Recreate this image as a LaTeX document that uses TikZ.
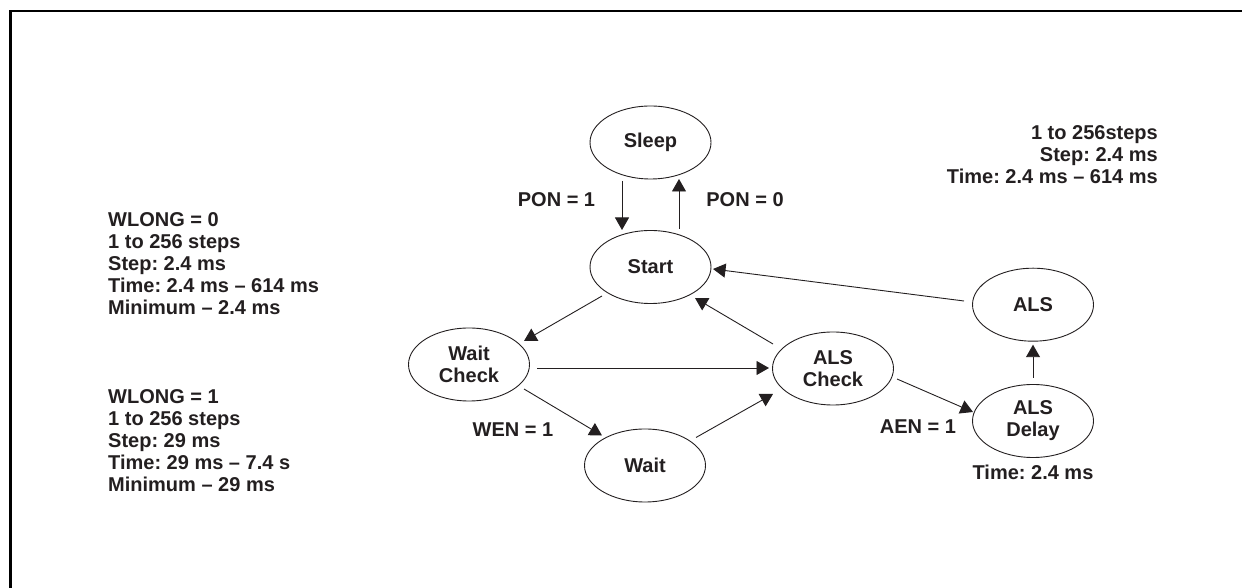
\documentclass[tikz,border=0pt]{standalone}
\usepackage{fontspec}
\setmainfont{Liberation Sans}
\usetikzlibrary{arrows.meta,shapes.geometric,calc}
\definecolor{ink}{RGB}{35,31,32}
\frenchspacing
\newcommand\mylabfont{\fontsize{20}{22}\selectfont\bfseries}
\newcommand\mylines[2][l]{\begin{tabular}[t]{@{}#1@{}}#2\end{tabular}}
\begin{document}
\begin{tikzpicture}[x=1pt,y=1pt,
  state/.style={ellipse,draw=ink,line width=0.9pt,minimum width=121pt,minimum height=73pt,inner sep=0pt,align=center,text=ink,font=\mylabfont},
  arr/.style={draw=ink,line width=0.9pt,-{Triangle[width=14pt,length=12.5pt]}},
  lbl/.style={inner sep=0pt,text=ink,font=\mylabfont}
]
\useasboundingbox (0,0) rectangle (1242,588);
% frame
\draw[black,line width=2.6pt] (10.3,0) -- (10.3,576.8) -- (1242,576.8);

% states
\node[state] (sleep)    at (650.5,445.5) {Sleep};
\node[state] (start)    at (650.5,321)   {Start};
\node[state] (waitchk)  at (469,223.5)   {Wait\\Check};
\node[state] (wait)     at (645,122.5)   {Wait};
\node[state] (alschk)   at (833,219.5)   {ALS\\Check};
\node[state] (als)      at (1033,283.3)  {ALS};
\node[state] (alsdelay) at (1033,167)    {ALS\\Delay};

% connectors
\draw[arr] ($(sleep)+(-28.5,-38.5)$) -- ($(start)+(-28.5,37)$);
\draw[arr] ($(start)+(28.5,38)$) -- ($(sleep)+(28.5,-36.5)$);
\draw[arr] ($(als)+(-69,3.7)$) -- ($(start)+(62.5,-2)$);
\draw[arr] ($(alschk)+(-60,24.5)$) -- ($(start)+(44.5,-31)$);
\draw[arr] ($(start)+(-48.5,-29)$) -- ($(waitchk)+(55,23.5)$);
\draw[arr] ($(waitchk)+(68,-3.5)$) -- ($(alschk)+(-64,0.5)$);
\draw[arr] ($(waitchk)+(55,-24.5)$) -- ($(wait)+(-43,30)$);
\draw[arr] ($(wait)+(51,28)$) -- ($(alschk)+(-60,-25.5)$);
\draw[arr] ($(alschk)+(64,-10.5)$) -- ($(alsdelay)+(-60,9)$);
\draw[arr] ($(alsdelay)+(0,43)$) -- ($(als)+(0,-40)$);

% labels
\node[lbl] (pon1) at (556.5,388) {PON = 1};
\node[lbl] (pon0) at (745,388) {PON = 0};
\node[lbl] (wen1) at (513,158) {WEN = 1};
\node[lbl] (aen1) at (918,161) {AEN = 1};
\node[lbl,anchor=base] (tdelay) at (1033,108) {Time: 2.4 ms};

% text blocks
\node[lbl,anchor=base east] (alsinfo) at (1158,448)
  {\mylines[r]{1 to 256steps\\Step: 2.4 ms\\Time: 2.4 ms -- 614 ms}};
\node[lbl,anchor=base west] (wlong0) at (108,361)
  {\mylines{WLONG = 0\\1 to 256 steps\\Step: 2.4 ms\\Time: 2.4 ms -- 614 ms\\Minimum -- 2.4 ms}};
\node[lbl,anchor=base west] (wlong1) at (108,184)
  {\mylines{WLONG = 1\\1 to 256 steps\\Step: 29 ms\\Time: 29 ms -- 7.4 s\\Minimum -- 29 ms}};
\end{tikzpicture}
\end{document}
